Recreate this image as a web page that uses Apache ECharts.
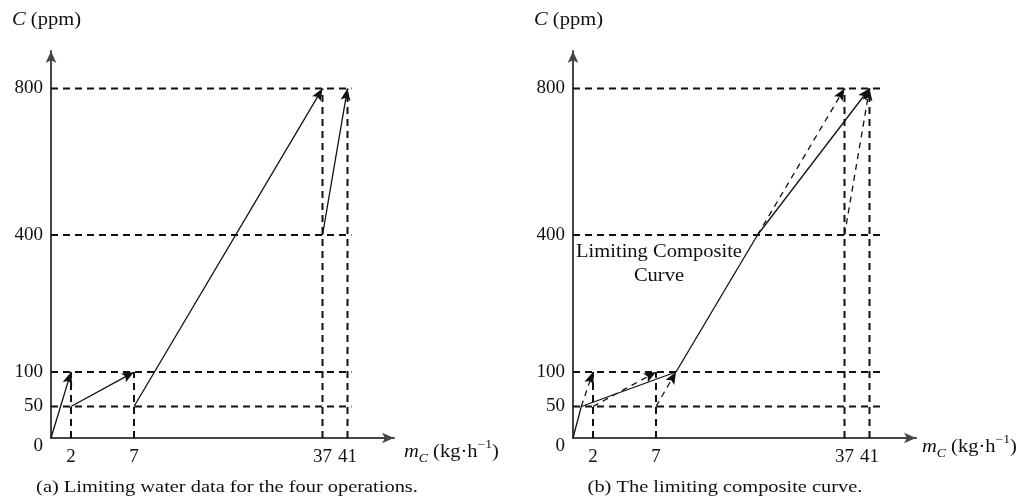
<!DOCTYPE html>
<html>
<head>
<meta charset="utf-8">
<script src="https://cdn.jsdelivr.net/npm/echarts@6/dist/echarts.min.js"></script>
<style>
  html, body { margin: 0; padding: 0; background: #fff; }
  #main { width: 1018px; height: 502px; }
</style>
</head>
<body>
<div id="main"></div>
<script>
// tick labels
const xTicks = [2, 7, 37, 41];
const yTicks = [0, 50, 100, 400, 800];

// limiting water data, one entry per operation (kg/h, ppm)
const opMassStart = [0, 2, 7, 37];
const opMassEnd = [2, 7, 37, 41];
const opCin = [0, 50, 50, 400];
const opCout = [100, 100, 800, 800];

// limiting composite curve
const compMass = [0, 1, 9, 21, 41];
const compConc = [0, 50, 100, 400, 800];

// dashed operation pieces shown behind the composite curve in (b)
const bDashFrom = [[1, 50], [2, 50], [7, 50], [21, 400], [37, 400]];
const bDashTo = [[2, 100], [7, 100], [9, 100], [37, 800], [41, 800]];

// the figure is schematic: values are placed on a piecewise axis
const xKnots = [0, 1, 2, 7, 9, 21, 37, 41];
const xPlace = [0, 8.3, 20, 83, 103, 184.5, 271.5, 296.5];
const yKnots = [0, 50, 100, 400, 800];
const yPlace = [0, 31.5, 66, 203, 349.5];

function interp(knots, place, v) {
    for (let i = 1; i < knots.length; i++) {
        if (v <= knots[i]) {
            const t = (v - knots[i - 1]) / (knots[i] - knots[i - 1]);
            return place[i - 1] + t * (place[i] - place[i - 1]);
        }
    }
    return place[place.length - 1];
}
const fx = v => interp(xKnots, xPlace, v);
const fy = v => interp(yKnots, yPlace, v);

const SERIF = '"Liberation Serif", "DejaVu Serif", serif';
const AX_W = 343, AX_H = 387;
const STRETCH = 1.14; // text in the picture is a bit wider than the font

function arrowHead(p1, p2, color) {
    const dx = p2[0] - p1[0], dy = p2[1] - p1[1];
    const len = Math.sqrt(dx * dx + dy * dy) || 1;
    const ux = dx / len, uy = dy / len;
    const L = 12, W = 5, N = 2.5;
    const bx = p2[0] - ux * L, by = p2[1] - uy * L;
    return {
        type: 'polygon',
        shape: {
            points: [
                p2,
                [bx - uy * W, by + ux * W],
                [p2[0] - ux * (L - N), p2[1] - uy * (L - N)],
                [bx + uy * W, by - ux * W]
            ]
        },
        style: { fill: color }
    };
}

// each segment: [x1, y1, x2, y2] in axis units
function segSeries(gridIdx, segs, opt) {
    return {
        type: 'custom',
        xAxisIndex: gridIdx,
        yAxisIndex: gridIdx,
        clip: false,
        silent: true,
        data: segs,
        encode: { x: [0, 2], y: [1, 3] },
        renderItem: function (params, api) {
            const p1 = api.coord([api.value(0), api.value(1)]);
            const p2 = api.coord([api.value(2), api.value(3)]);
            const children = [];
            let end = p2;
            if (opt.arrow) {
                const dx = p2[0] - p1[0], dy = p2[1] - p1[1];
                const len = Math.sqrt(dx * dx + dy * dy) || 1;
                end = [p2[0] - dx / len * 8, p2[1] - dy / len * 8];
            }
            if (opt.width > 0) {
                children.push({
                    type: 'line',
                    shape: { x1: p1[0], y1: p1[1], x2: end[0], y2: end[1] },
                    style: { stroke: opt.color, lineWidth: opt.width, lineDash: opt.dash || null }
                });
            }
            if (opt.arrow) children.push(arrowHead(p1, p2, opt.color));
            return { type: 'group', children: children };
        }
    };
}

const pts = (from, to) => from.map((f, i) => [fx(f[0]), fy(f[1]), fx(to[i][0]), fy(to[i][1])]);

// guide lines: horizontal at each level, vertical at each operation end
function guides(ext) {
    const segs = [];
    yTicks.filter(v => v > 0).forEach(v => segs.push([0, fy(v), fx(41) + ext, fy(v)]));
    opMassEnd.forEach((m, i) => segs.push([fx(m), 0, fx(m), fy(opCout[i])]));
    return segs;
}

function axes(gridIdx) {
    return {
        x: {
            type: 'value', gridIndex: gridIdx, min: 0, max: AX_W,
            splitLine: { show: false },
            axisTick: { show: false },
            axisLine: { symbol: ['none', 'arrow'], symbolSize: [8, 12], lineStyle: { color: '#444', width: 2 } },
            axisLabel: {
                customValues: xTicks.map(fx),
                margin: 10,
                color: '#111', fontFamily: SERIF, fontSize: 19,
                formatter: v => String(xTicks.find(t => Math.abs(fx(t) - v) < 0.01))
            }
        },
        y: {
            type: 'value', gridIndex: gridIdx, min: 0, max: AX_H,
            splitLine: { show: false },
            axisTick: { show: false },
            axisLine: { symbol: ['none', 'arrow'], symbolSize: [8, 12], lineStyle: { color: '#444', width: 2 } },
            axisLabel: {
                customValues: yTicks.map(fy),
                margin: 8,
                color: '#111', fontFamily: SERIF, fontSize: 19,
                formatter: v => {
                    const t = yTicks.find(t => Math.abs(fy(t) - v) < 0.01);
                    return t === 0 ? '{z|0}' : String(t);
                },
                rich: { z: { fontFamily: SERIF, fontSize: 19, color: '#111', padding: [16, 0, 0, 0] } }
            }
        }
    };
}

const chartDom = document.getElementById('main');
const myChart = echarts.init(chartDom);

const a = axes(0), b = axes(1);

const opFrom = opMassStart.map((m, i) => [m, opCin[i]]);
const opTo = opMassEnd.map((m, i) => [m, opCout[i]]);
const compFrom = compMass.slice(0, -1).map((m, i) => [m, compConc[i]]);
const compTo = compMass.slice(1).map((m, i) => [m, compConc[i + 1]]);
const compLast = compFrom.length - 1;

const guideStyle = { color: '#111', width: 2, dash: [7, 5] };

const titleRich = {
    i: { fontFamily: SERIF, fontSize: 18, fontStyle: 'italic', color: '#111' },
    n: { fontFamily: SERIF, fontSize: 18, color: '#111' },
    sub: { fontFamily: SERIF, fontSize: 12, fontStyle: 'italic', color: '#111', verticalAlign: 'bottom', lineHeight: 26 },
    sup: { fontFamily: SERIF, fontSize: 12, color: '#111', verticalAlign: 'top', lineHeight: 26 }
};

function textEl(x, y, text, align, size, stretch) {
    return {
        type: 'text', x: x, y: y, silent: true, scaleX: stretch || STRETCH,
        style: {
            text: text, align: align, verticalAlign: 'middle',
            font: (size || 18) + 'px ' + SERIF, fill: '#111', rich: titleRich
        }
    };
}

const option = {
    animation: false,
    grid: [
        { left: 51, top: 438 - AX_H, width: AX_W, height: AX_H },
        { left: 573, top: 438 - AX_H, width: AX_W, height: AX_H }
    ],
    xAxis: [a.x, b.x],
    yAxis: [a.y, b.y],
    series: [
        segSeries(0, guides(4), guideStyle),
        segSeries(0, pts(opFrom, opTo), { color: '#111', width: 1.3, arrow: true }),
        segSeries(1, guides(14), guideStyle),
        segSeries(1, pts(bDashFrom, bDashTo), { color: '#111', width: 1.3, dash: [6, 5], arrow: true }),
        segSeries(1, pts(compFrom, compTo), { color: '#111', width: 1.3 }),
        segSeries(1, pts([compFrom[compLast]], [compTo[compLast]]), { color: '#111', width: 0, arrow: true })
    ],
    graphic: [
        textEl(12, 20, '{i|C}{n| (ppm)}', 'left'),
        textEl(534, 20, '{i|C}{n| (ppm)}', 'left'),
        textEl(404, 452, '{i|m}{sub|C}{n| (kg·h}{sup|−1}{n|)}', 'left'),
        textEl(922, 447, '{i|m}{sub|C}{n| (kg·h}{sup|−1}{n|)}', 'left'),
        textEl(227, 488, '(a) Limiting water data for the four operations.', 'center', 17, 1.2),
        textEl(725, 488, '(b) The limiting composite curve.', 'center', 17, 1.2),
        textEl(659, 252, 'Limiting Composite', 'center', 18),
        textEl(659, 276, 'Curve', 'center', 18)
    ]
};

myChart.setOption(option);
</script>
</body>
</html>
